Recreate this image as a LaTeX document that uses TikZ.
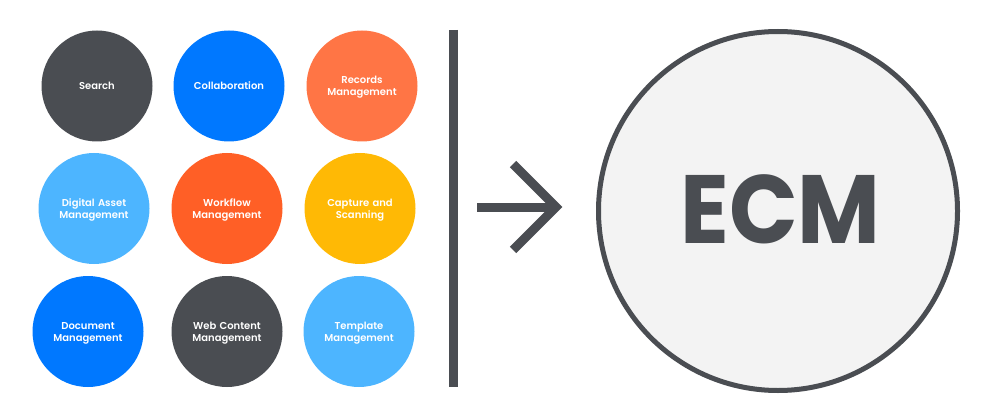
\documentclass[tikz,border=0pt]{standalone}
\usepackage{fontspec}
\setmainfont{Poppins}
\newfontfamily\labelfont{Poppins SemiBold}
\usepackage{tikz}
\definecolor{slate}{HTML}{4A4D52}
\definecolor{azure}{HTML}{0078FF}
\definecolor{coral}{HTML}{FF7545}
\definecolor{sky}{HTML}{4DB5FF}
\definecolor{flame}{HTML}{FF5F26}
\definecolor{amber}{HTML}{FFB905}
\definecolor{paper}{HTML}{F3F3F3}
\tikzstyle{tool} = [circle, minimum size=111pt, inner sep=0pt, outer sep=0pt, text centered, text=white, font=\fontsize{10}{12}\labelfont, text width=100pt]
\tikzstyle{twoline} = [tool, text depth=11.5pt]
\tikzstyle{ecm} = [circle, minimum size=359pt, inner sep=0pt, draw=slate, line width=5pt, fill=paper, text=slate, font=\fontsize{97}{97}\selectfont\bfseries]
\tikzstyle{divider} = [draw=slate, line width=9pt]
\tikzstyle{arrow} = [draw=slate, line width=9pt, miter limit=10]

\begin{document}
\begin{tikzpicture}[x=1pt, y=1pt]
\useasboundingbox (0,0) rectangle (1000,-414);

\node (search) [tool, fill=slate] at (97,-86) {Search};
\node (collab) [tool, fill=azure] at (229,-86) {Collaboration};
\node (records) [twoline, fill=coral] at (362,-86) {Records\\Management};
\node (asset) [twoline, fill=sky] at (94,-208.5) {Digital Asset\\Management};
\node (workflow) [twoline, fill=flame] at (227,-208.5) {Workflow\\Management};
\node (capture) [twoline, fill=amber] at (360,-208.5) {Capture and\\Scanning};
\node (document) [twoline, fill=azure] at (88,-331.5) {Document\\Management};
\node (web) [twoline, fill=slate] at (227,-331.5) {Web Content\\Management};
\node (template) [twoline, fill=sky] at (359,-331.5) {Template\\Management};

\node (ecmbig) [ecm] at (778,-211) {\hspace{5pt}\raisebox{3pt}{\scalebox{0.93}[1]{ECM}}};

\coordinate (bartop) at (453,-30);
\coordinate (barbot) at (453,-387);
\coordinate (tail) at (477,-207);
\coordinate (tip) at (556,-207);
\coordinate (headtop) at (513,-164);
\coordinate (headbot) at (513,-250);

\draw [divider] (bartop) -- (barbot);
\draw [arrow] (tail) -- (tip);
\draw [arrow] (headtop) -- (tip) -- (headbot);
\end{tikzpicture}
\end{document}
